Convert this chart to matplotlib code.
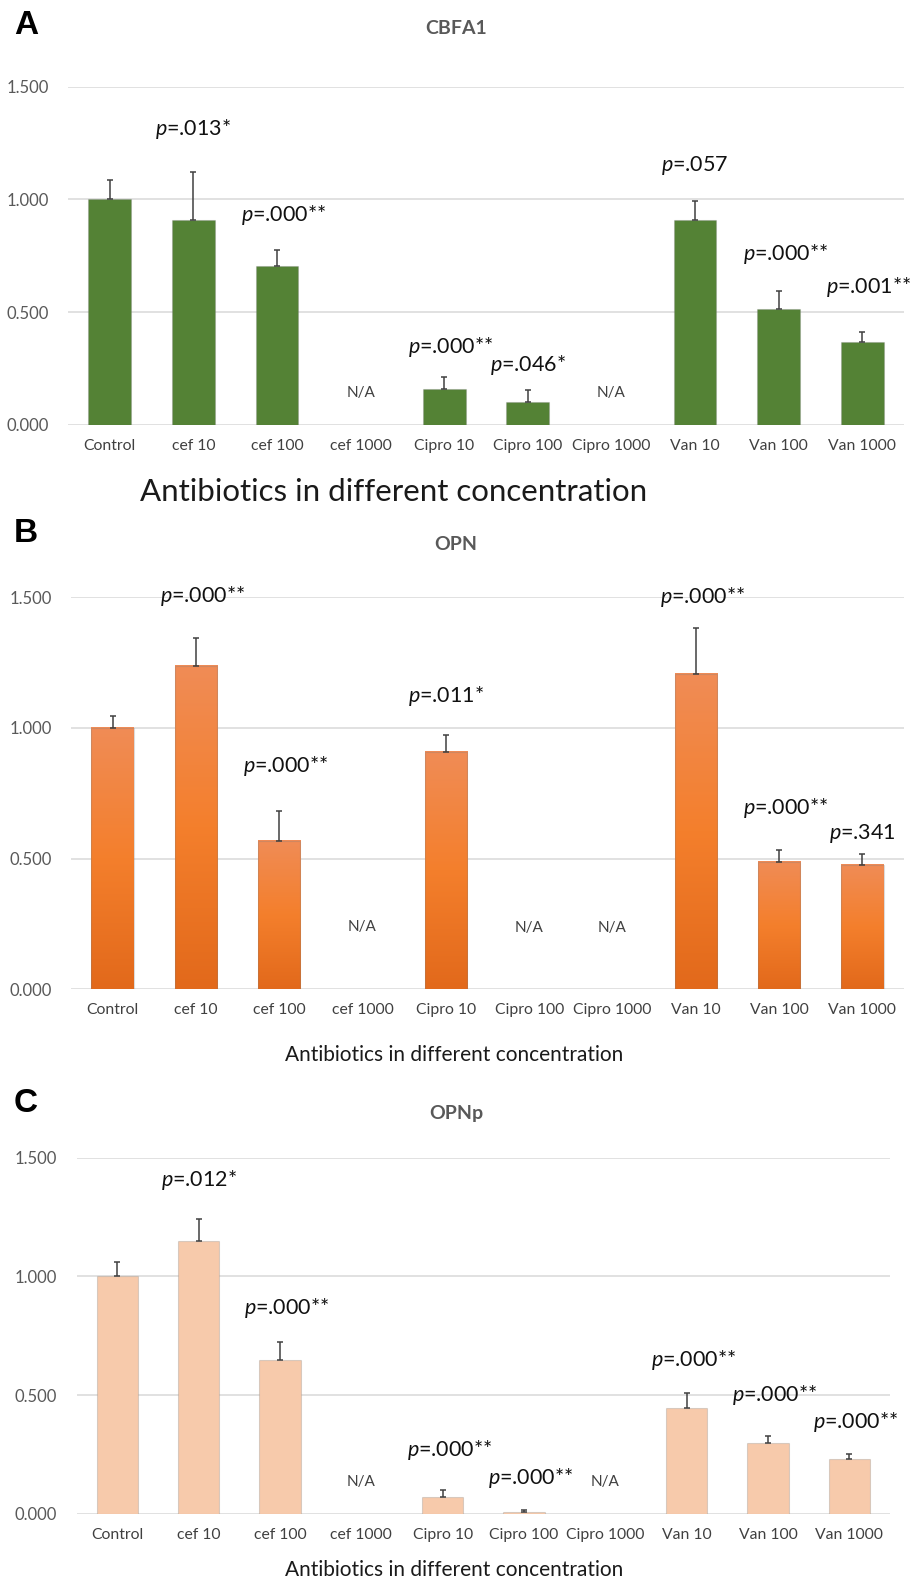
import numpy as np
import matplotlib.pyplot as plt
from matplotlib.colors import LinearSegmentedColormap

plt.rcParams['font.family'] = 'Lato'
plt.rcParams['mathtext.fontset'] = 'custom'
plt.rcParams['mathtext.it'] = 'Lato:italic'
plt.rcParams['mathtext.rm'] = 'Lato'

nan = np.nan
groups = ['Control', 'cef 10', 'cef 100', 'cef 1000', 'Cipro 10',
          'Cipro 100', 'Cipro 1000', 'Van 10', 'Van 100', 'Van 1000']

# relative expression, mean and upper error (SD)
cbfa1 = [1.000, 0.910, 0.707, nan, 0.158, 0.103, nan, 0.910, 0.516, 0.367]
cbfa1_err = [0.088, 0.214, 0.069, nan, 0.056, 0.052, nan, 0.081, 0.076, 0.046]
cbfa1_p = ['', '.013*', '.000**', 'N/A', '.000**', '.046*', 'N/A', '.057', '.000**', '.001**']

opn = [1.000, 1.239, 0.568, nan, 0.909, nan, nan, 1.206, 0.486, 0.476]
opn_err = [0.047, 0.107, 0.114, nan, 0.065, nan, nan, 0.175, 0.047, 0.042]
opn_p = ['', '.000**', '.000**', 'N/A', '.011*', 'N/A', 'N/A', '.000**', '.000**', '.341']

opnp = [1.000, 1.148, 0.649, nan, 0.070, 0.010, nan, 0.448, 0.298, 0.232]
opnp_err = [0.059, 0.095, 0.077, nan, 0.030, 0.005, nan, 0.063, 0.032, 0.020]
opnp_p = ['', '.012*', '.000**', 'N/A', '.000**', '.000**', 'N/A', '.000**', '.000**', '.000**']

# heights where the significance labels sit
cbfa1_ly = [0, 1.314, 0.929, 0.143, 0.346, 0.265, 0.143, 1.150, 0.757, 0.612]
opn_ly = [0, 1.506, 0.854, 0.239, 1.123, 0.236, 0.236, 1.502, 0.692, 0.597]
opnp_ly = [0, 1.407, 0.867, 0.136, 0.270, 0.150, 0.136, 0.649, 0.501, 0.389]

W, H = 916, 1582
fig = plt.figure(figsize=(W / 100, H / 100), dpi=100)

orange = LinearSegmentedColormap.from_list(
    'orange', ['#e2691b', '#f47f2c', '#f08c56'])


def px_axes(l, t, r, b):
    return fig.add_axes([l / W, 1 - b / H, (r - l) / W, (b - t) / H])


def px_text(x, y, s, **kw):
    fig.text(x / W, 1 - y / H, s, **kw)


def draw_panel(ax, vals, errs, plabels, label_y, color=None, cmap=None):
    x = np.arange(len(groups))
    vals = np.array(vals)
    errs = np.array(errs)
    ok = ~np.isnan(vals)
    width = 0.51
    edge = (0.5, 0.5, 0.5, 0.28)
    if cmap is None:
        ax.bar(x[ok], vals[ok], width, color=color, edgecolor=edge, lw=0.8, zorder=2)
    else:
        ax.bar(x[ok], vals[ok], width, color='none', edgecolor=edge, lw=0.8, zorder=3)
        grad = np.linspace(0, 1, 256).reshape(-1, 1)
        for xi, v in zip(x[ok], vals[ok]):
            ax.imshow(grad, cmap=cmap, origin='lower', aspect='auto',
                      extent=(xi - width / 2, xi + width / 2, 0, v), zorder=2)
    ax.errorbar(x[ok], vals[ok], yerr=[np.zeros(ok.sum()), errs[ok]], fmt='none',
                ecolor='#404040', elinewidth=1.1, capsize=2.2, capthick=1.1, zorder=4)

    for xi, lab, ly in zip(x, plabels, label_y):
        if lab == 'N/A':
            ax.text(xi, ly, lab, ha='center', va='center', fontsize=11, color='#404040')
        elif lab:
            dx = 0.08 if lab.endswith('**') else 0
            ax.text(xi + dx, ly, r'$\mathit{p}$=' + lab, ha='center', va='center',
                    fontsize=15.5, color='#111111')

    ax.set_xlim(-0.5, len(groups) - 0.5)
    ax.set_ylim(0, 1.5)
    ax.set_yticks([0, 0.5, 1.0, 1.5])
    ax.set_yticklabels(['%.3f' % t for t in [0, 0.5, 1.0, 1.5]])
    ax.set_xticks(x)
    ax.set_xticklabels(groups)
    ax.tick_params(axis='x', length=0, pad=10, labelsize=11.3, labelcolor='#404040')
    ax.tick_params(axis='y', length=0, pad=14, labelsize=12, labelcolor='#595959')
    ax.yaxis.grid(True, color='#d9d9d9', lw=1.1)
    ax.set_axisbelow(True)
    for s in ax.spines.values():
        s.set_visible(False)


# A - CBFA1
ax1 = px_axes(68, 86.7, 904, 425)
draw_panel(ax1, cbfa1, cbfa1_err, cbfa1_p, cbfa1_ly, color='#548235')
px_text(26, 25, 'A', family='Liberation Sans', weight='bold', fontsize=24, ha='center', va='center')
px_text(456, 28, 'CBFA1', weight='bold', fontsize=14, color='#595959', ha='center', va='center')
px_text(394, 492, 'Antibiotics in different concentration', fontsize=22.5, color='#1a1a1a',
        ha='center', va='center')

# B - OPN
ax2 = px_axes(71, 597.3, 904, 989.3)
draw_panel(ax2, opn, opn_err, opn_p, opn_ly, cmap=orange)
px_text(26, 534, 'B', family='Liberation Sans', weight='bold', fontsize=24, ha='center', va='center')
px_text(456, 545, 'OPN', weight='bold', fontsize=14, color='#595959', ha='center', va='center')
px_text(454, 1055, 'Antibiotics in different concentration', fontsize=15, color='#1a1a1a',
        ha='center', va='center')

# C - OPNp
ax3 = px_axes(76.7, 1157.7, 890, 1514)
draw_panel(ax3, opnp, opnp_err, opnp_p, opnp_ly, color='#f7caab')
px_text(26, 1104, 'C', family='Liberation Sans', weight='bold', fontsize=24, ha='center', va='center')
px_text(456, 1113, 'OPNp', weight='bold', fontsize=14, color='#595959', ha='center', va='center')
px_text(454, 1570, 'Antibiotics in different concentration', fontsize=15, color='#1a1a1a',
        ha='center', va='center')

fig.savefig('out.png', dpi=100)
